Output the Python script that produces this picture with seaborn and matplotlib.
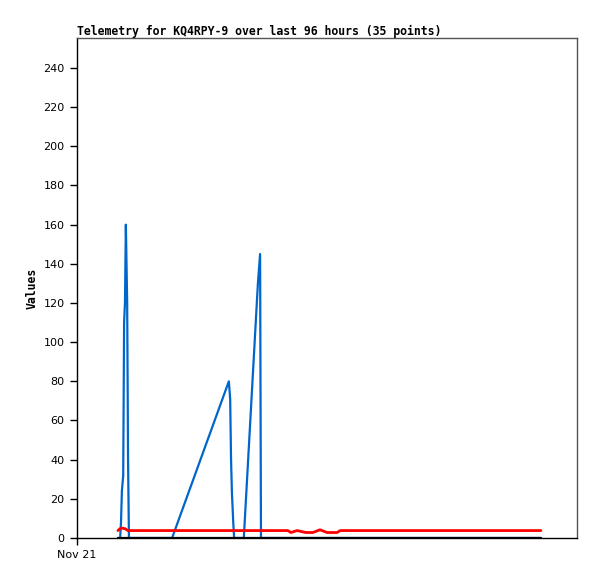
import matplotlib
matplotlib.use('Agg')
import matplotlib.pyplot as plt
import seaborn as sns
import pandas as pd

# hours since Nov 21 00:00
hours = [9.3, 9.8, 10.0, 10.2, 10.5, 10.7, 10.9, 11.1, 11.4, 11.6, 11.8, 12.0, 21.6,
         34.5, 34.8, 35.0, 35.2, 35.5, 35.7, 37.9, 41.1, 41.6, 41.8, 47.9, 48.6,
         50.0, 52.0, 53.6, 55.2, 56.8, 59.1, 59.8, 73.4, 91.6, 105.4]
blue = [0, 0, 8, 24, 32, 110, 120, 160, 120, 40, 0, 0, 0,
        80, 71, 40, 23, 8, 0, 0, 130, 145, 0, 0, 0,
        0, 0, 0, 0, 0, 0, 0, 0, 0, 0]
red = [3.8, 4.8, 4.8, 5.0, 5.0, 4.8, 4.8, 4.5, 4.0, 3.8, 3.8, 3.8, 3.8,
       3.8, 3.8, 3.8, 3.8, 3.8, 3.8, 3.8, 3.8, 3.8, 3.8, 3.8, 2.8,
       3.8, 2.8, 2.8, 4.2, 2.8, 2.8, 3.8, 3.8, 3.8, 3.8]
black = [0] * len(hours)

df = pd.DataFrame({'hours': hours, 'blue': blue, 'red': red, 'black': black})

sns.set_style('white')
plt.rcParams['font.family'] = ['DejaVu Sans']
plt.rcParams['text.color'] = 'black'
plt.rcParams['xtick.color'] = 'black'
plt.rcParams['ytick.color'] = 'black'
plt.rcParams['axes.labelcolor'] = 'black'

fig = plt.figure(figsize=(5.97, 5.79), dpi=100)
ax = fig.add_axes([77 / 597, 41 / 579, 500 / 597, 500 / 579])

sns.lineplot(data=df, x='hours', y='blue', color='#0066CC', linewidth=1.6, ax=ax, sort=False, estimator=None)
sns.lineplot(data=df, x='hours', y='red', color='#FF0000', linewidth=2.0, ax=ax, sort=False, estimator=None)
sns.lineplot(data=df, x='hours', y='black', color='black', linewidth=1.6, ax=ax, sort=False, estimator=None)

ax.set_xlim(0, 113.6)
ax.set_ylim(0, 255.3)
ax.set_yticks(range(0, 241, 20))
ax.set_xticks([0])
ax.set_xticklabels(['Nov 21'])
ax.tick_params(axis='both', direction='out', length=5, width=1, color='black',
               labelsize=8, labelcolor='black', left=True, bottom=True, pad=4)
ax.set_xlabel('')
ax.set_ylabel('Values', fontsize=8.3, fontweight='bold', family='DejaVu Sans Mono', labelpad=3)
ax.set_title('Telemetry for KQ4RPY-9 over last 96 hours (35 points)', loc='left',
             fontsize=8.3, fontweight='bold', family='DejaVu Sans Mono', pad=2, color='black')

for side in ['left', 'bottom']:
    ax.spines[side].set_color('black')
    ax.spines[side].set_linewidth(1)
for side in ['top', 'right']:
    ax.spines[side].set_color('#555555')
    ax.spines[side].set_linewidth(1)

fig.savefig('out.png', dpi=100)
